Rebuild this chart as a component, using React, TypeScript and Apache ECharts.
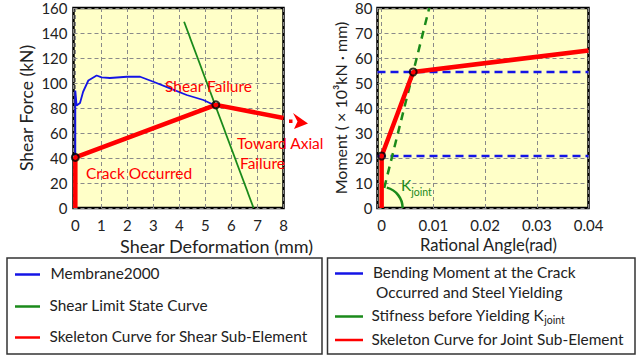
import React, { useEffect, useRef } from "react";
import * as echarts from "echarts";

// ---- Left chart data: shear sub-element ----
const membraneX = [0, 0, 0.05, 0.18, 0.3, 0.5, 0.82, 1.01, 1.33, 1.98, 2.49, 3.0, 3.64, 4.28, 4.92, 5.37];
const membraneY = [0, 94, 82, 84, 93, 102, 106, 104.5, 104, 105, 105, 101, 95.7, 90.4, 86.4, 82];
const shearLimitX = [4.18, 6.85];
const shearLimitY = [149, 0];
const skeletonShearX = [0, 0, 5.4, 8];
const skeletonShearY = [0, 40.5, 82.5, 72];
const shearPointsX = [0, 5.4];
const shearPointsY = [40.5, 82.5];

// ---- Right chart data: joint sub-element ----
const crackMoment = 20.8;
const yieldMoment = 54.4;
const angleMin = -0.0008;
const angleMax = 0.04;
const stiffnessX = [0.0005, 0.0092];
const stiffnessY = [8, 80];
const skeletonJointX = [0, 0, 0.0061, 0.04];
const skeletonJointY = [0, 20.8, 54.4, 63];
const jointPointsX = [0, 0.0061];
const jointPointsY = [20.8, 54.4];

const zip = (xs: number[], ys: number[]) => xs.map((x, i) => [x, ys[i]]);

const FONT = "Lato, 'Noto Sans', sans-serif";
const RED = "#ff0000";
const BLUE = "#1414e6";
const GREEN = "#1a8a1a";
const TXT = "#222222";
const LEG = 15.4;
const ANN = 15.5;

export default function App() {
  const ref = useRef<HTMLDivElement>(null);
  useEffect(() => {
    if (!ref.current) return;
    const chart = echarts.init(ref.current, null, { renderer: "svg" });
    const splitLine = { show: true, lineStyle: { color: "#8a8a8a", type: [4, 3] as any, width: 1 } };
    const axisLabel = { color: TXT, fontSize: 15, fontFamily: FONT };
    const yLabel = { ...axisLabel, padding: [8, 0, 0, 0] };
    const gridBase = {
      show: true,
      backgroundColor: "#ffffc8",
      borderColor: "#000",
      borderWidth: 2.5,
      top: 8,
      height: 200,
    };
    const option: any = {
      animation: false,
      textStyle: { fontFamily: FONT },
      grid: [
        { ...gridBase, left: 73.5, width: 210 },
        { ...gridBase, left: 377.5, width: 211 },
      ],
      xAxis: [
        {
          gridIndex: 0,
          type: "value",
          min: -0.07,
          max: 8,
          splitNumber: 8,
          name: "Shear Deformation (mm)",
          nameLocation: "middle",
          nameGap: 27,
          nameTextStyle: { color: TXT, fontSize: 18, fontFamily: FONT, padding: [0, 0, 0, 76] },
          axisLine: { show: false },
          axisTick: { show: false },
          splitLine,
          axisLabel: {
            ...axisLabel,
            margin: 9,
            formatter: (v: number) => (v < 0 ? "" : String(Math.round(v))),
          },
        },
        {
          gridIndex: 1,
          type: "value",
          min: angleMin,
          max: angleMax,
          splitNumber: 4,
          name: "Rational Angle(rad)",
          nameLocation: "middle",
          nameGap: 28,
          nameTextStyle: { color: TXT, fontSize: 16.6, fontFamily: FONT, padding: [0, 0, 0, 11] },
          axisLine: { show: false },
          axisTick: { show: false },
          splitLine,
          axisLabel: {
            ...axisLabel,
            margin: 9,
            formatter: (v: number) => (v < 0 ? "" : v === 0 ? "0" : v.toFixed(2)),
          },
        },
      ],
      yAxis: [
        {
          gridIndex: 0,
          type: "value",
          min: 0,
          max: 160,
          interval: 20,
          name: "Shear Force (kN)",
          nameLocation: "middle",
          nameGap: 38,
          nameTextStyle: { color: TXT, fontSize: 17.5, fontFamily: FONT },
          axisLine: { show: false },
          axisTick: { show: false },
          splitLine,
          axisLabel: { ...yLabel, margin: 6 },
        },
        {
          gridIndex: 1,
          type: "value",
          min: 0,
          max: 80,
          interval: 10,
          name: "Moment ( × 10³kN · mm)",
          nameLocation: "middle",
          nameGap: 29,
          nameTextStyle: { color: TXT, fontSize: 16, fontFamily: FONT },
          axisLine: { show: false },
          axisTick: { show: false },
          splitLine,
          axisLabel: { ...yLabel, margin: 5 },
        },
      ],
      series: [
        {
          name: "Membrane2000",
          type: "line",
          xAxisIndex: 0,
          yAxisIndex: 0,
          data: zip(membraneX, membraneY),
          symbol: "none",
          lineStyle: { color: BLUE, width: 1.8 },
          z: 3,
        },
        {
          name: "Shear Limit State Curve",
          type: "line",
          xAxisIndex: 0,
          yAxisIndex: 0,
          data: zip(shearLimitX, shearLimitY),
          symbol: "none",
          lineStyle: { color: GREEN, width: 1.8 },
          z: 4,
        },
        {
          name: "Skeleton Curve for Shear Sub-Element",
          type: "line",
          xAxisIndex: 0,
          yAxisIndex: 0,
          data: zip(skeletonShearX, skeletonShearY),
          symbol: "none",
          lineStyle: { color: RED, width: 4.5 },
          z: 5,
        },
        {
          type: "scatter",
          xAxisIndex: 0,
          yAxisIndex: 0,
          data: zip(shearPointsX, shearPointsY),
          symbol: "circle",
          symbolSize: 7,
          itemStyle: { color: "rgba(0,0,0,0)", borderColor: "#000", borderWidth: 2 },
          z: 6,
        },
        {
          name: "Bending Moment at the Crack Occurred and Steel Yielding",
          type: "line",
          xAxisIndex: 1,
          yAxisIndex: 1,
          data: [[angleMin, crackMoment], [angleMax, crackMoment]],
          symbol: "none",
          lineStyle: { color: BLUE, width: 2.5, type: [8, 5] },
          z: 3,
        },
        {
          type: "line",
          xAxisIndex: 1,
          yAxisIndex: 1,
          data: [[angleMin, yieldMoment], [angleMax, yieldMoment]],
          symbol: "none",
          lineStyle: { color: BLUE, width: 2.5, type: [8, 5] },
          z: 3,
        },
        {
          name: "Stifness before Yielding Kjoint",
          type: "line",
          xAxisIndex: 1,
          yAxisIndex: 1,
          data: zip(stiffnessX, stiffnessY),
          symbol: "none",
          lineStyle: { color: GREEN, width: 2.5, type: [8, 6] },
          z: 4,
        },
        {
          name: "Skeleton Curve for Joint Sub-Element",
          type: "line",
          xAxisIndex: 1,
          yAxisIndex: 1,
          data: zip(skeletonJointX, skeletonJointY),
          symbol: "none",
          lineStyle: { color: RED, width: 4.5 },
          z: 5,
        },
        {
          type: "scatter",
          xAxisIndex: 1,
          yAxisIndex: 1,
          data: zip(jointPointsX, jointPointsY),
          symbol: "circle",
          symbolSize: 7,
          itemStyle: { color: "rgba(0,0,0,0)", borderColor: "#000", borderWidth: 2 },
          z: 6,
        },
      ],
      graphic: [
        // annotations on left chart
        { type: "text", z: 100, left: 165, top: 78, style: { text: "Shear Failure", fill: RED, font: `${ANN}px ${FONT}` } },
        { type: "text", z: 100, left: 237, top: 135, style: { text: "Toward Axial", fill: RED, font: `${ANN}px ${FONT}` } },
        { type: "text", z: 100, left: 240, top: 155, style: { text: "Failure", fill: RED, font: `${ANN}px ${FONT}` } },
        { type: "text", z: 100, left: 86, top: 165, style: { text: "Crack Occurred", fill: RED, font: `${ANN}px ${FONT}` } },
        // arrow beyond the plot
        { type: "rect", z: 100, shape: { x: 289, y: 119.5, width: 3.5, height: 3.5 }, style: { fill: RED } },
        {
          type: "polygon",
          z: 100,
          shape: { points: [[293, 113], [308, 123.5], [294, 129], [297.5, 121.5]] },
          style: { fill: RED },
        },
        // K_joint arc and label
        {
          type: "arc",
          z: 100,
          shape: { cx: 381.6, cy: 208, r: 21, startAngle: -1.32, endAngle: 0, clockwise: true },
          style: { stroke: GREEN, lineWidth: 2.5, fill: null },
        },
        {
          type: "text",
          z: 100,
          left: 401,
          top: 177,
          style: {
            text: "{k|K}{s|joint}",
            rich: {
              k: { fill: GREEN, fontSize: 15.5, fontFamily: FONT, verticalAlign: "bottom" },
              s: { fill: GREEN, fontSize: 10.5, fontFamily: FONT, verticalAlign: "bottom", padding: [0, 0, -4, 0] },
            },
          },
        },
        // legend boxes
        { type: "rect", shape: { x: 7, y: 258, width: 315, height: 96 }, style: { fill: "#fff", stroke: "#333", lineWidth: 1.5 } },
        { type: "rect", shape: { x: 327.5, y: 258, width: 307.5, height: 96 }, style: { fill: "#fff", stroke: "#333", lineWidth: 1.5 } },
        // left legend
        { type: "line", shape: { x1: 15, y1: 274.5, x2: 40, y2: 274.5 }, style: { stroke: BLUE, lineWidth: 2.5 } },
        { type: "line", shape: { x1: 15, y1: 306.5, x2: 40, y2: 306.5 }, style: { stroke: GREEN, lineWidth: 2.5 } },
        { type: "line", shape: { x1: 15, y1: 337.5, x2: 40, y2: 337.5 }, style: { stroke: RED, lineWidth: 2.5 } },
        { type: "text", left: 50.5, top: 265.5, style: { text: "Membrane2000", fill: TXT, font: `${LEG}px ${FONT}` } },
        { type: "text", left: 49.5, top: 297.5, style: { text: "Shear Limit State Curve", fill: TXT, font: `${LEG}px ${FONT}` } },
        { type: "text", left: 49.5, top: 328.5, style: { text: "Skeleton Curve for Shear Sub-Element", fill: TXT, font: `${LEG}px ${FONT}` } },
        // right legend
        { type: "line", shape: { x1: 335, y1: 273.5, x2: 363, y2: 273.5 }, style: { stroke: BLUE, lineWidth: 2.5 } },
        { type: "line", shape: { x1: 335, y1: 316.5, x2: 363, y2: 316.5 }, style: { stroke: GREEN, lineWidth: 2.5 } },
        { type: "line", shape: { x1: 335, y1: 340, x2: 363, y2: 340 }, style: { stroke: RED, lineWidth: 2.5 } },
        { type: "text", left: 373, top: 264.5, style: { text: "Bending Moment at the Crack", fill: TXT, font: `${LEG}px ${FONT}` } },
        { type: "text", left: 376, top: 284, style: { text: "Occurred and Steel Yielding", fill: TXT, font: `${LEG}px ${FONT}` } },
        {
          type: "text",
          left: 371.5,
          top: 307,
          style: {
            text: "{a|Stifness before Yielding K}{s|joint}",
            rich: {
              a: { fill: TXT, fontSize: LEG, fontFamily: FONT, verticalAlign: "bottom" },
              s: { fill: TXT, fontSize: 10.5, fontFamily: FONT, verticalAlign: "bottom", padding: [0, 0, -3, 0] },
            },
          },
        },
        { type: "text", left: 371.5, top: 331, style: { text: "Skeleton Curve for Joint Sub-Element", fill: TXT, font: `${LEG}px ${FONT}` } },
      ],
    };
    chart.setOption(option);
    return () => chart.dispose();
  }, []);
  return (
    <div
      ref={ref}
      style={{ position: "fixed", left: 0, top: 0, width: 640, height: 356, background: "#fff" }}
    />
  );
}
